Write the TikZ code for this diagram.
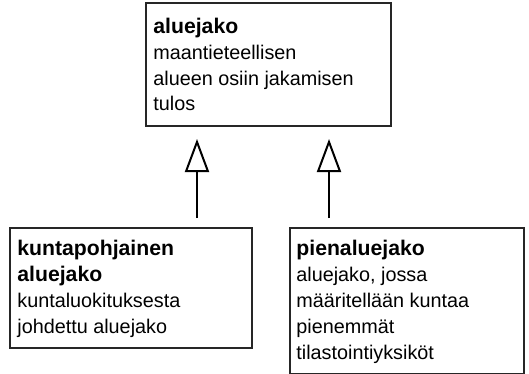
\documentclass[tikz,border=0pt]{standalone}
\usepackage{fontspec}
\setmainfont{Liberation Sans}
\usetikzlibrary{arrows.meta,calc}
\newcommand{\ttl}[1]{{\fontsize{10.6}{12.9}\selectfont\bfseries #1}}
\begin{document}
\begin{tikzpicture}[x=0.5pt,y=-0.5pt,
  box/.style={draw=black!85, line width=1pt, inner sep=0pt, anchor=north west},
  txt/.style={inner sep=0pt, align=left, anchor=base west, font=\fontsize{9.9}{12.9}\selectfont},
  gen/.style={draw=black, line width=1pt, -{Triangle[open, length=16.5pt, width=12pt]}}]
\useasboundingbox (0,0) rectangle (529,374);
\node[box, minimum width=122.5pt, minimum height=61.5pt] (top) at (145,2) {};
\node[box, minimum width=121pt, minimum height=60pt] (kp) at (9,227) {};
\node[box, minimum width=117pt, minimum height=73pt] (pa) at (289,227) {};
% base anchor = baseline of the last line
\node[txt] (topt) at ($(top.north west)+(8,109)$) {\ttl{aluejako}\\maantieteellisen\\alueen osiin jakamisen\\tulos};
\node[txt] (kpt) at ($(kp.north west)+(8,106)$) {\ttl{kuntapohjainen}\\\ttl{aluejako}\\kuntaluokituksesta\\johdettu aluejako};
\node[txt] (pat) at ($(pa.north west)+(7,132)$) {\ttl{pienaluejako}\\aluejako, jossa\\määritellään kuntaa\\pienemmät\\tilastointiyksiköt};
\coordinate (a1) at (197,0);
\coordinate (a2) at (329,0);
\draw[gen, shorten <=4.5pt, shorten >=6pt] (kp.north -| a1) -- (top.south -| a1);
\draw[gen, shorten <=4.5pt, shorten >=6pt] (pa.north -| a2) -- (top.south -| a2);
\end{tikzpicture}
\end{document}
